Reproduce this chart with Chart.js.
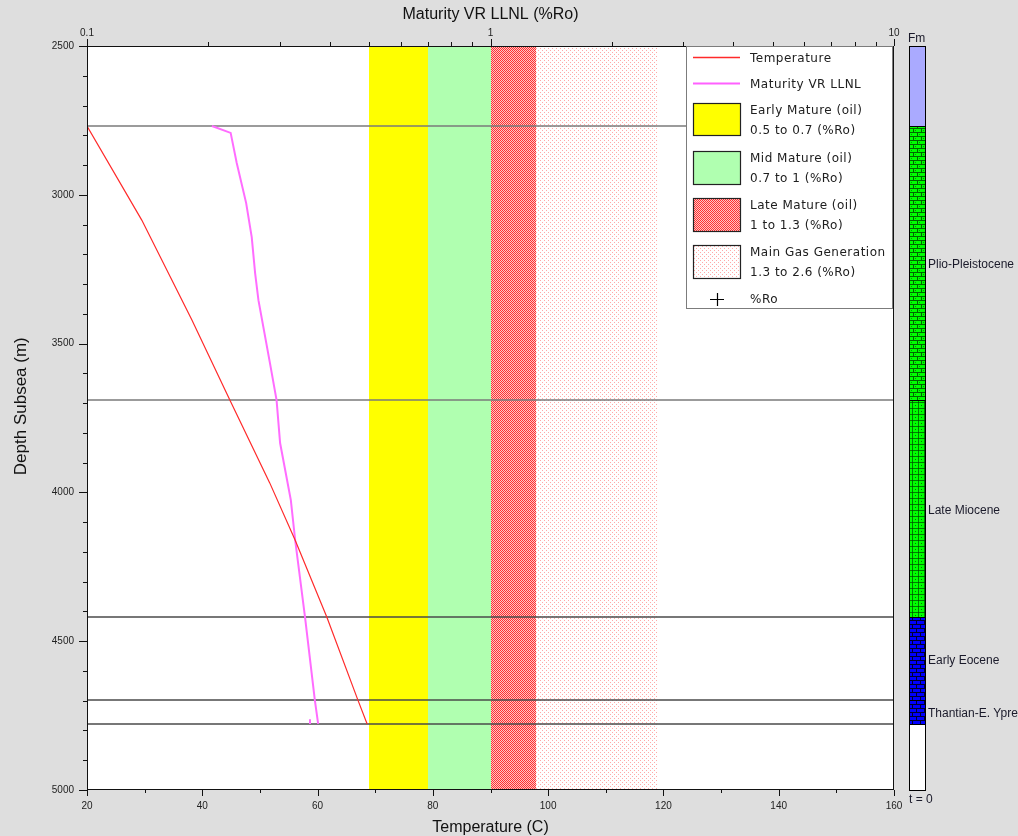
<!DOCTYPE html>
<html><head><meta charset="utf-8">
<script src="https://cdn.jsdelivr.net/npm/chart.js@4.4.1/dist/chart.umd.min.js"></script>
<style>html,body{margin:0;padding:0;background:#dedede;overflow:hidden}canvas{display:block}</style>
</head><body>
<canvas id="c" width="1018" height="836"></canvas>
<script>
// ---- data ----
const tempDepth  = [2769, 3085, 3421, 3690, 3968, 4160, 4419, 4698, 4778];
const tempValues = [20, 29.5, 38.2, 44.8, 51.7, 56.1, 61.6, 67.0, 68.6];
const matDepth   = [2769, 2792, 2893, 3028, 3142, 3263, 3354, 3565, 3690, 3834, 4026, 4160, 4419, 4698, 4778];
const matValues  = [0.204, 0.227, 0.235, 0.248, 0.256, 0.261, 0.266, 0.284, 0.295, 0.301, 0.320, 0.328, 0.347, 0.367, 0.374];
const matStubDepth  = [4762, 4778];
const matStubValues = [0.357, 0.357];
const zoneNames = ['Early Mature (oil)', 'Mid Mature (oil)', 'Late Mature (oil)', 'Main Gas Generation'];
const zoneFrom  = [0.5, 0.7, 1, 1.3];
const zoneTo    = [0.7, 1, 1.3, 2.6];
const fmTops  = [2500, 2769, 3690, 4419, 4698, 4778];
const fmBase  = 5000;
const fmNames = ['', 'Plio-Pleistocene', 'Late Miocene', 'Early Eocene', 'Thantian-E. Ypre', ''];
const tempTicks  = [20, 40, 60, 80, 100, 120, 140, 160];
const depthTicks = [2500, 3000, 3500, 4000, 4500, 5000];
const roTicks    = [0.1, 1, 10];

const FONT = "'Liberation Sans', Arial, sans-serif";
const LFONT = "'DejaVu Sans', Verdana, sans-serif";

function pat(ctx, w, h, draw) {
  const c = document.createElement('canvas'); c.width = w; c.height = h;
  const g = c.getContext('2d'); draw(g);
  return ctx.createPattern(c, 'repeat');
}
let P = null;
function patterns(ctx) {
  if (P) return P;
  P = {};
  P.late = pat(ctx, 2, 2, g => { g.fillStyle = '#ffc4c4'; g.fillRect(0,0,2,2); g.fillStyle = '#ff3030'; g.fillRect(0,0,1,1); g.fillRect(1,1,1,1); });
  P.gas = pat(ctx, 4, 4, g => { g.fillStyle = '#ffffff'; g.fillRect(0,0,4,4); g.fillStyle = '#ffa8a8'; g.fillRect(0,0,1,1); g.fillRect(2,2,1,1); });
  P.green1 = pat(ctx, 8, 8, g => { g.fillStyle = '#00ff00'; g.fillRect(0,0,8,8); g.fillStyle = 'rgba(0,50,0,0.75)';
    g.fillRect(0,0,8,1); g.fillRect(0,4,8,1); g.fillRect(1,1,1,3); g.fillRect(5,5,1,3);
    g.fillStyle='rgba(0,90,0,0.6)'; g.fillRect(3,2,1,1); g.fillRect(7,6,1,1); });
  P.green2 = pat(ctx, 6, 6, g => { g.fillStyle = '#00ff00'; g.fillRect(0,0,6,6); g.fillStyle = 'rgba(0,70,0,0.7)';
    g.fillRect(0,0,6,1); g.fillRect(0,0,1,6); g.fillRect(3,3,1,1); });
  P.blue = pat(ctx, 8, 8, g => { g.fillStyle = '#0000ff'; g.fillRect(0,0,8,8); g.fillStyle = '#000030';
    g.fillRect(0,0,8,1); g.fillRect(0,4,8,1); g.fillRect(0,0,1,4); g.fillRect(4,4,1,4); });
  return P;
}
const fmFill = p => ['#aaaaff', p.green1, p.green2, p.blue, p.blue, '#ffffff'];
const zoneFill = p => ['#ffff00', '#b0ffb0', p.late, p.gas];

const deco = {
  id: 'deco',
  beforeDraw(chart) {
    const {ctx, chartArea: a} = chart;
    ctx.save();
    ctx.fillStyle = '#dedede'; ctx.fillRect(0, 0, chart.width, chart.height);
    ctx.fillStyle = '#ffffff'; ctx.fillRect(a.left, a.top, a.right - a.left, a.bottom - a.top);
    ctx.restore();
  },
  beforeDatasetsDraw(chart) {
    const {ctx, chartArea: a, scales} = chart;
    const p = patterns(ctx), zf = zoneFill(p);
    ctx.save();
    for (let i = 0; i < zoneFrom.length; i++) {
      const x1 = Math.round(scales.x2.getPixelForValue(zoneFrom[i]));
      const x2 = Math.round(scales.x2.getPixelForValue(zoneTo[i]));
      ctx.fillStyle = zf[i];
      ctx.fillRect(x1, a.top, x2 - x1, a.bottom - a.top);
    }
    ctx.lineWidth = 1.5;
    for (let i = 1; i < fmTops.length; i++) {
      const y = Math.round(scales.y.getPixelForValue(fmTops[i]));
      ctx.strokeStyle = i <= 2 ? '#7a7a7a' : '#4a4a4a';
      ctx.beginPath(); ctx.moveTo(a.left, y); ctx.lineTo(a.right, y); ctx.stroke();
    }
    ctx.restore();
  },
  afterDraw(chart) {
    const {ctx, chartArea: a, scales} = chart;
    const sx = scales.x, sx2 = scales.x2, sy = scales.y;
    const p = patterns(ctx);
    ctx.save();
    // frame
    ctx.strokeStyle = '#111'; ctx.lineWidth = 1;
    ctx.strokeRect(a.left + 0.5, a.top + 0.5, a.right - a.left - 1, a.bottom - a.top - 1);
    ctx.beginPath();
    for (let d = 2500; d <= 5000; d += 100) {
      const y = Math.round(sy.getPixelForValue(d)) + 0.5, len = d % 500 === 0 ? 8 : 4;
      ctx.moveTo(a.left - len, y); ctx.lineTo(a.left, y);
    }
    for (let t = 20; t <= 160; t += 10) {
      const x = Math.round(sx.getPixelForValue(t)) + 0.5, len = t % 20 === 0 ? 6 : 3;
      ctx.moveTo(x, a.bottom); ctx.lineTo(x, a.bottom + len);
    }
    for (const k of [0.1, 1, 10]) {
      for (let m = 1; m <= (k === 10 ? 1 : 9); m++) {
        const x = Math.round(sx2.getPixelForValue(k * m)) + 0.5, len = m === 1 ? 7 : 4;
        ctx.moveTo(x, a.top); ctx.lineTo(x, a.top - len);
      }
    }
    ctx.stroke();

    // formation column
    const cx = a.right + 15, cw = 17;
    const ff = fmFill(p);
    for (let i = 0; i < fmTops.length; i++) {
      const y1 = Math.round(sy.getPixelForValue(fmTops[i]));
      const y2 = Math.round(sy.getPixelForValue(i + 1 < fmTops.length ? fmTops[i + 1] : fmBase));
      ctx.fillStyle = ff[i]; ctx.fillRect(cx, y1, cw, y2 - y1);
      ctx.strokeStyle = '#000'; ctx.lineWidth = 1;
      ctx.strokeRect(cx + 0.5, y1 + 0.5, cw - 1, y2 - y1);
      if (fmNames[i]) {
        ctx.fillStyle = '#1a1a2a'; ctx.font = '12px ' + FONT; ctx.textBaseline = 'middle'; ctx.textAlign = 'left';
        ctx.fillText(fmNames[i], cx + cw + 2, (y1 + y2) / 2 + 2);
      }
    }
    ctx.fillStyle = '#1a1a2a'; ctx.font = '12px ' + FONT; ctx.textBaseline = 'middle'; ctx.textAlign = 'left';
    ctx.fillText('Fm', cx - 1, a.top - 7);
    ctx.fillText('t = 0', cx, a.bottom + 10);

    // legend
    const L = 686, T = 46, W = 207, H = 263;
    ctx.fillStyle = '#ffffff'; ctx.fillRect(L, T, W, H);
    ctx.strokeStyle = '#7c7c7c'; ctx.lineWidth = 1; ctx.strokeRect(L + 0.5, T + 0.5, W - 1, H - 1);
    ctx.font = '12px ' + LFONT; ctx.fillStyle = '#202020'; ctx.textAlign = 'left'; ctx.textBaseline = 'middle';
    ctx.letterSpacing = '0.5px';
    const tx = 750;
    ctx.lineWidth = 1.5; ctx.strokeStyle = '#ff2a2a';
    ctx.beginPath(); ctx.moveTo(693, 57.5); ctx.lineTo(740, 57.5); ctx.stroke();
    ctx.fillText(chart.data.datasets[0].label, tx, 59);
    ctx.strokeStyle = '#ff60ff'; ctx.lineWidth = 2;
    ctx.beginPath(); ctx.moveTo(693, 83.5); ctx.lineTo(740, 83.5); ctx.stroke();
    ctx.fillText(chart.data.datasets[1].label, tx, 85);
    const zf = zoneFill(p);
    const sw = [[103, 136], [151, 185], [198, 232], [245, 279]];
    for (let i = 0; i < zoneNames.length; i++) {
      const [y1, y2] = sw[i];
      ctx.fillStyle = zf[i]; ctx.fillRect(693, y1, 48, y2 - y1);
      ctx.strokeStyle = '#222'; ctx.lineWidth = 1.2; ctx.strokeRect(693.5, y1 + 0.5, 47, y2 - y1 - 1);
      ctx.fillStyle = '#202020';
      ctx.fillText(zoneNames[i], tx, y1 + 8);
      ctx.fillText(zoneFrom[i] + ' to ' + zoneTo[i] + ' (%Ro)', tx, y1 + 28);
    }
    ctx.strokeStyle = '#000'; ctx.lineWidth = 1.2;
    ctx.beginPath(); ctx.moveTo(710, 299.5); ctx.lineTo(724, 299.5); ctx.moveTo(717.5, 293); ctx.lineTo(717.5, 306); ctx.stroke();
    ctx.fillText('%Ro', tx, 300);
    ctx.restore();
  }
};

new Chart(document.getElementById('c'), {
  type: 'scatter',
  data: {
    datasets: [
      { label: 'Temperature', xAxisID: 'x', yAxisID: 'y', showLine: true, pointRadius: 0,
        borderColor: '#ff2a2a', borderWidth: 1.2,
        data: tempValues.map((t, i) => ({x: t, y: tempDepth[i]})) },
      { label: 'Maturity VR LLNL', xAxisID: 'x2', yAxisID: 'y', showLine: true, pointRadius: 0,
        borderColor: '#ff6cff', borderWidth: 2,
        data: matValues.map((r, i) => ({x: r, y: matDepth[i]})) },
      { label: 'Maturity VR LLNL (start)', xAxisID: 'x2', yAxisID: 'y', showLine: true, pointRadius: 0,
        borderColor: '#ff6cff', borderWidth: 2,
        data: matStubValues.map((r, i) => ({x: r, y: matStubDepth[i]})) }
    ]
  },
  options: {
    responsive: false, animation: false,
    layout: {padding: {left: 0, top: 0, right: 124, bottom: 0}},
    plugins: {legend: {display: false}, tooltip: {enabled: false}},
    scales: {
      x: {
        type: 'linear', position: 'bottom', min: 20, max: 160,
        grid: {display: false, drawTicks: false}, border: {display: false},
        afterBuildTicks: s => { s.ticks = tempTicks.map(v => ({value: v})); },
        afterFit: s => { s.height = 46; },
        ticks: {font: {family: FONT, size: 10}, color: '#222', padding: 10, maxRotation: 0, autoSkip: false,
                callback: v => String(v)},
        title: {display: true, text: 'Temperature (C)', color: '#111', font: {family: FONT, size: 16, lineHeight: 1}, padding: {top: 0, bottom: 0}}
      },
      x2: {
        type: 'logarithmic', position: 'top', min: 0.1, max: 10,
        grid: {display: false, drawTicks: false}, border: {display: false},
        afterBuildTicks: s => { s.ticks = roTicks.map(v => ({value: v})); },
        afterFit: s => { s.height = 46; },
        ticks: {font: {family: FONT, size: 10}, color: '#222', padding: 7, maxRotation: 0, autoSkip: false,
                callback: v => String(v)},
        title: {display: true, text: 'Maturity VR LLNL (%Ro)', color: '#111', font: {family: FONT, size: 16, lineHeight: 1}, padding: {top: 7, bottom: 0}}
      },
      y: {
        type: 'linear', position: 'left', min: 2500, max: 5000, reverse: true,
        grid: {display: false, drawTicks: false}, border: {display: false},
        afterBuildTicks: s => { s.ticks = depthTicks.map(v => ({value: v})); },
        afterFit: s => { s.width = 87; },
        ticks: {font: {family: FONT, size: 10}, color: '#222', padding: 13, autoSkip: false,
                callback: v => String(v)},
        title: {display: true, text: '\u00a0\u00a0\u00a0\u00a0\u00a0Depth Subsea (m)', color: '#111', font: {family: FONT, size: 17, lineHeight: 1}, padding: {top: 13, bottom: 0}}
      }
    }
  },
  plugins: [deco]
});
</script>
</body></html>
